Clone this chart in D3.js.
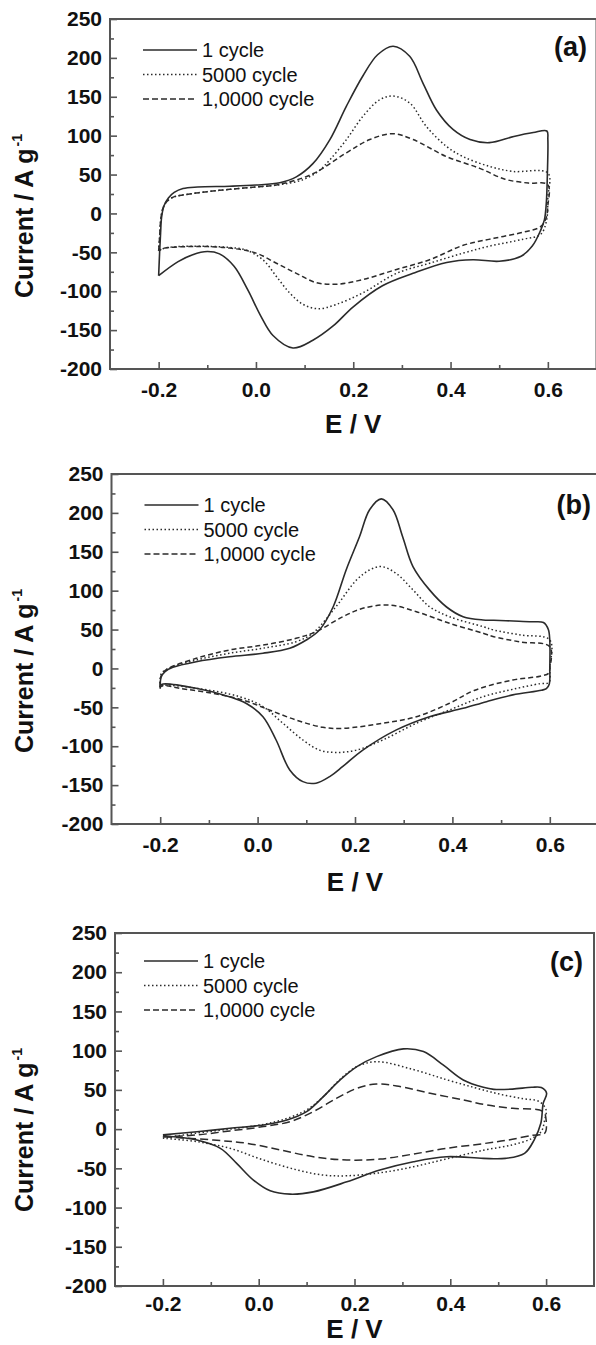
<!DOCTYPE html>
<html lang="en">
<head>
<meta charset="UTF-8">
<title>CV cycling</title>
<script src="https://d3js.org/d3.v7.min.js"></script>
<style>
    html, body { margin: 0; padding: 0; background: #fff; }
    svg { display: block; font-family: "Liberation Sans", Arial, sans-serif; }
</style>
</head>
<body>
<svg id="chart" width="596" height="1345"></svg>
<script>
// legend + labels
const seriesNames = ["1 cycle", "5000 cycle", "1,0000 cycle"];
const panelLabels = ["(a)", "(b)", "(c)"];
const xTicks = [-0.2, 0.0, 0.2, 0.4, 0.6];
const xMinorTicks = [-0.1, 0.1, 0.3, 0.5];
const yTicks = [250, 200, 150, 100, 50, 0, -50, -100, -150, -200];
const yMinorTicks = [225, 175, 125, 75, 25, -25, -75, -125, -175];

// [E (V), current (A/g)] along the sweep: anodic branch then cathodic back
const aCycle1 = [[-0.2,-80],[-0.198,-50],[-0.196,-25],[-0.194,-5],[-0.189,10],[-0.18,20],[-0.168,27],[-0.15,32],[-0.12,34],[-0.054,35],[0.0,36.5],[0.049,39.5],[0.083,47],[0.117,64],[0.152,95],[0.186,138],[0.22,177],[0.25,204],[0.282,215],[0.316,202],[0.343,168],[0.371,133],[0.405,108],[0.44,95],[0.48,91],[0.53,99],[0.57,104],[0.598,106],[0.6,95],[0.599,50],[0.597,15],[0.593,-8],[0.585,-22],[0.568,-42],[0.545,-55],[0.5,-61.5],[0.446,-59.5],[0.392,-63],[0.323,-77],[0.26,-93],[0.2,-120],[0.158,-145],[0.117,-163],[0.076,-173],[0.035,-157],[0.01,-132],[-0.017,-98],[-0.045,-68],[-0.075,-52],[-0.1,-49],[-0.13,-53],[-0.16,-62],[-0.2,-80]];
const aCycle5000 = [[-0.2,-48],[-0.198,-30],[-0.196,-10],[-0.192,5],[-0.185,14],[-0.17,21],[-0.157,23],[-0.1,28],[-0.054,31],[0.0,34],[0.049,37],[0.097,43.5],[0.13,55],[0.152,69],[0.186,95],[0.22,125],[0.254,146],[0.282,151],[0.316,142],[0.35,112],[0.392,86],[0.426,73],[0.48,60.5],[0.528,54],[0.6,52],[0.6,20],[0.597,-10],[0.585,-27],[0.55,-33],[0.48,-42],[0.426,-51],[0.357,-64],[0.289,-77],[0.22,-102],[0.165,-117],[0.128,-122.5],[0.097,-117],[0.069,-102],[0.042,-81],[0.015,-60],[-0.02,-47],[-0.05,-44],[-0.088,-42.5],[-0.157,-42.5],[-0.19,-45],[-0.2,-48]];
const aCycle10000 = [[-0.2,-48],[-0.198,-30],[-0.196,-10],[-0.192,5],[-0.185,14],[-0.17,21],[-0.157,23],[-0.1,28],[-0.054,31],[0.0,34],[0.049,37.5],[0.117,51],[0.186,78],[0.234,95],[0.282,102.5],[0.323,95],[0.392,73],[0.46,58],[0.512,44],[0.56,39],[0.6,37],[0.6,10],[0.597,-5],[0.585,-17],[0.55,-24],[0.489,-32],[0.426,-41],[0.357,-59.5],[0.289,-72],[0.22,-85],[0.165,-91],[0.124,-89],[0.083,-77],[0.042,-64],[0.0,-51],[-0.054,-44.5],[-0.122,-42.5],[-0.19,-45],[-0.2,-48]];

const bCycle1 = [[-0.2,-26],[-0.198,-11],[-0.19,-4],[-0.174,1.5],[-0.126,8.7],[-0.058,15],[0.011,19.5],[0.066,26],[0.1,36.6],[0.127,49.4],[0.155,79],[0.182,127],[0.209,169],[0.23,204],[0.254,218],[0.278,204],[0.298,169],[0.319,131],[0.353,101],[0.388,79],[0.422,66.5],[0.463,62.3],[0.485,62],[0.525,61],[0.563,60],[0.587,59],[0.597,50],[0.6,35],[0.6,0],[0.599,-20],[0.593,-26],[0.583,-28],[0.524,-34],[0.47,-42.7],[0.422,-51.3],[0.353,-62],[0.285,-79],[0.216,-105],[0.175,-126],[0.148,-139],[0.12,-147.5],[0.093,-145.5],[0.066,-130.5],[0.038,-92],[0.011,-62],[-0.023,-45],[-0.058,-36.3],[-0.126,-25.5],[-0.194,-20],[-0.2,-22]];
const bCycle5000 = [[-0.2,-24],[-0.198,-7],[-0.186,-1],[-0.126,10.8],[-0.058,19.5],[0.011,26],[0.079,34.4],[0.113,45.2],[0.161,79.4],[0.203,113.7],[0.23,126.6],[0.254,131],[0.285,122],[0.319,101],[0.353,79.4],[0.394,66.5],[0.463,53.7],[0.485,49.4],[0.54,43],[0.6,36.6],[0.6,0],[0.598,-18],[0.58,-19.5],[0.524,-26.8],[0.463,-36.3],[0.394,-53.4],[0.326,-70.5],[0.257,-92],[0.203,-105],[0.161,-108],[0.127,-105],[0.093,-92],[0.052,-70.5],[0.011,-49],[-0.037,-36.3],[-0.126,-25.5],[-0.194,-22],[-0.2,-24]];
const bCycle10000 = [[-0.2,-24],[-0.198,-9],[-0.186,-1],[-0.126,13],[-0.058,23.7],[0.011,30],[0.079,38.7],[0.12,47.3],[0.175,66.5],[0.216,77.3],[0.271,81.6],[0.326,73],[0.394,58],[0.463,45.2],[0.485,40.8],[0.54,34],[0.6,28],[0.6,0],[0.598,-6],[0.58,-10],[0.524,-14.8],[0.446,-28],[0.394,-44.8],[0.326,-62],[0.257,-70.5],[0.175,-77],[0.134,-75.7],[0.079,-66.3],[0.024,-53.4],[-0.03,-40.6],[-0.092,-32],[-0.16,-25.5],[-0.194,-22],[-0.2,-24]];

const cCycle1 = [[-0.2,-7.4],[-0.129,-3.3],[-0.06,1],[0.01,5.3],[0.059,11.6],[0.1,22.3],[0.135,41.4],[0.17,62.7],[0.205,79.7],[0.246,92.4],[0.302,102.3],[0.344,98.8],[0.385,81.8],[0.427,62.7],[0.469,53.3],[0.491,50.7],[0.53,51],[0.57,53.3],[0.59,53],[0.601,45.7],[0.594,33],[0.589,7.4],[0.575,-13.9],[0.555,-30.9],[0.515,-37.3],[0.469,-37.3],[0.392,-35.2],[0.323,-41.6],[0.253,-52.2],[0.184,-67.2],[0.114,-80],[0.066,-82.9],[0.024,-78.7],[-0.011,-65],[-0.046,-43.7],[-0.08,-24.5],[-0.129,-13.9],[-0.2,-8.8]];
const cCycle5000 = [[-0.2,-11.6],[-0.129,-5],[-0.06,0],[0.01,6],[0.059,13.7],[0.1,24.4],[0.135,41.4],[0.17,63.6],[0.205,79.7],[0.246,86],[0.323,75.9],[0.392,63],[0.45,53],[0.5,45],[0.55,39],[0.586,35],[0.6,24.5],[0.597,11.7],[0.59,-3],[0.57,-12],[0.53,-20],[0.469,-27],[0.392,-38],[0.323,-48],[0.253,-55.7],[0.184,-59.5],[0.135,-58.6],[0.08,-52],[0.01,-39.4],[-0.06,-24.5],[-0.129,-16],[-0.2,-11.6]];
const cCycle10000 = [[-0.2,-10],[-0.129,-7.4],[-0.06,-2.3],[0.01,3.2],[0.066,9.6],[0.114,22.3],[0.163,39.4],[0.205,52],[0.246,57.6],[0.288,55],[0.358,45.7],[0.427,37.2],[0.476,30.8],[0.53,26.5],[0.594,22.3],[0.6,11.7],[0.597,-5.3],[0.57,-8],[0.52,-14],[0.469,-18.5],[0.392,-24.5],[0.323,-31.8],[0.253,-38.2],[0.184,-39.4],[0.114,-35.2],[0.045,-26.6],[-0.025,-18],[-0.095,-13.9],[-0.2,-9.5]];

// panel frames (pixels)
const panels = [
    { series: [aCycle1, aCycle5000, aCycle10000], left: 110, top: 19, right: 596.5, bottom: 369,
      tickPad: 13, titleY: 433, legendX: 143, legendTop: 31, labelX: 587, labelY: 56, dash: "5,3" },
    { series: [bCycle1, bCycle5000, bCycle10000], left: 111.5, top: 474, right: 598.5, bottom: 824,
      tickPad: 13, titleY: 891, legendX: 144.5, legendTop: 31, labelX: 591, labelY: 514, dash: "5,3" },
    { series: [cCycle1, cCycle5000, cCycle10000], left: 115, top: 933, right: 594, bottom: 1286,
      tickPad: 10, titleY: 1338, legendX: 144, legendTop: 28, labelX: 583, labelY: 971, dash: "8,4" }
];

const ink = "#2b2b2b";
const axisInk = "#555";
const svg = d3.select("#chart");

panels.forEach((p, i) => {
    const x = d3.scaleLinear().domain([-0.3, 0.7]).range([p.left, p.right]);
    const y = d3.scaleLinear().domain([-200, 250]).range([p.bottom, p.top]);
    const g = svg.append("g");

    const styles = [null, "1.5,2.5", p.dash];

    const line = d3.line()
        .x(d => x(d[0]))
        .y(d => y(d[1]))
        .curve(d3.curveCatmullRom.alpha(0.5));

    g.append("g").selectAll("path")
        .data(p.series)
        .enter().append("path")
        .attr("d", line)
        .attr("fill", "none")
        .attr("stroke", ink)
        .attr("stroke-width", (d, k) => k === 0 ? 1.6 : 1.5)
        .attr("stroke-dasharray", (d, k) => styles[k]);

    // axes, ticks point inward
    const xAxis = g.append("g")
        .attr("transform", `translate(0,${p.bottom})`)
        .call(d3.axisBottom(x).tickValues(xTicks).tickSize(-7).tickPadding(p.tickPad)
            .tickFormat(d3.format(".1f")));
    const xMinor = g.append("g")
        .attr("transform", `translate(0,${p.bottom})`)
        .call(d3.axisBottom(x).tickValues(xMinorTicks).tickSize(-4).tickFormat(""));
    const yAxis = g.append("g")
        .attr("transform", `translate(${p.left},0)`)
        .call(d3.axisLeft(y).tickValues(yTicks).tickSize(-7).tickPadding(8));
    const yMinor = g.append("g")
        .attr("transform", `translate(${p.left},0)`)
        .call(d3.axisLeft(y).tickValues(yMinorTicks).tickSize(-4).tickFormat(""));

    [xAxis, xMinor, yAxis, yMinor].forEach(a => {
        a.select(".domain").remove();
        a.selectAll("line").attr("stroke", axisInk).attr("stroke-width", 1.6);
        a.selectAll("text")
            .attr("font-family", "'Liberation Sans', Arial, sans-serif")
            .attr("font-size", 21)
            .attr("font-weight", "bold")
            .attr("fill", "#111");
    });
    xAxis.selectAll("text").text(d => d3.format(".1f")(d).replace("−", "-"));
    yAxis.selectAll("text").text(d => String(d));

    g.append("rect")
        .attr("x", p.left).attr("y", p.top)
        .attr("width", p.right - p.left).attr("height", p.bottom - p.top)
        .attr("fill", "none").attr("stroke", axisInk).attr("stroke-width", 2);

    // axis titles
    g.append("text")
        .attr("x", (p.left + p.right) / 2).attr("y", p.titleY)
        .attr("text-anchor", "middle")
        .attr("font-size", 26).attr("font-weight", "bold").attr("fill", "#111")
        .text("E / V");

    const yt = g.append("text")
        .attr("transform", `translate(33,${p.top + 279}) rotate(-90)`)
        .attr("font-size", 25).attr("font-weight", "bold").attr("fill", "#111");
    yt.append("tspan").text("Current / A g");
    yt.append("tspan").attr("dy", -11).attr("dx", 2).attr("font-size", 14).text("-1");

    // legend
    const leg = g.append("g");
    seriesNames.forEach((name, k) => {
        const ly = p.top + p.legendTop + k * 24.5;
        leg.append("line")
            .attr("x1", p.legendX).attr("x2", p.legendX + 54)
            .attr("y1", ly).attr("y2", ly)
            .attr("stroke", ink).attr("stroke-width", 1.5)
            .attr("stroke-dasharray", k === 2 ? "6,3" : styles[k]);
        leg.append("text")
            .attr("x", p.legendX + 59).attr("y", ly + 7)
            .attr("font-size", 20).attr("fill", "#111")
            .text(name);
    });

    g.append("text")
        .attr("x", p.labelX).attr("y", p.labelY)
        .attr("text-anchor", "end")
        .attr("font-size", 27).attr("font-weight", "bold").attr("fill", "#111")
        .text(panelLabels[i]);
});
</script>
</body>
</html>
